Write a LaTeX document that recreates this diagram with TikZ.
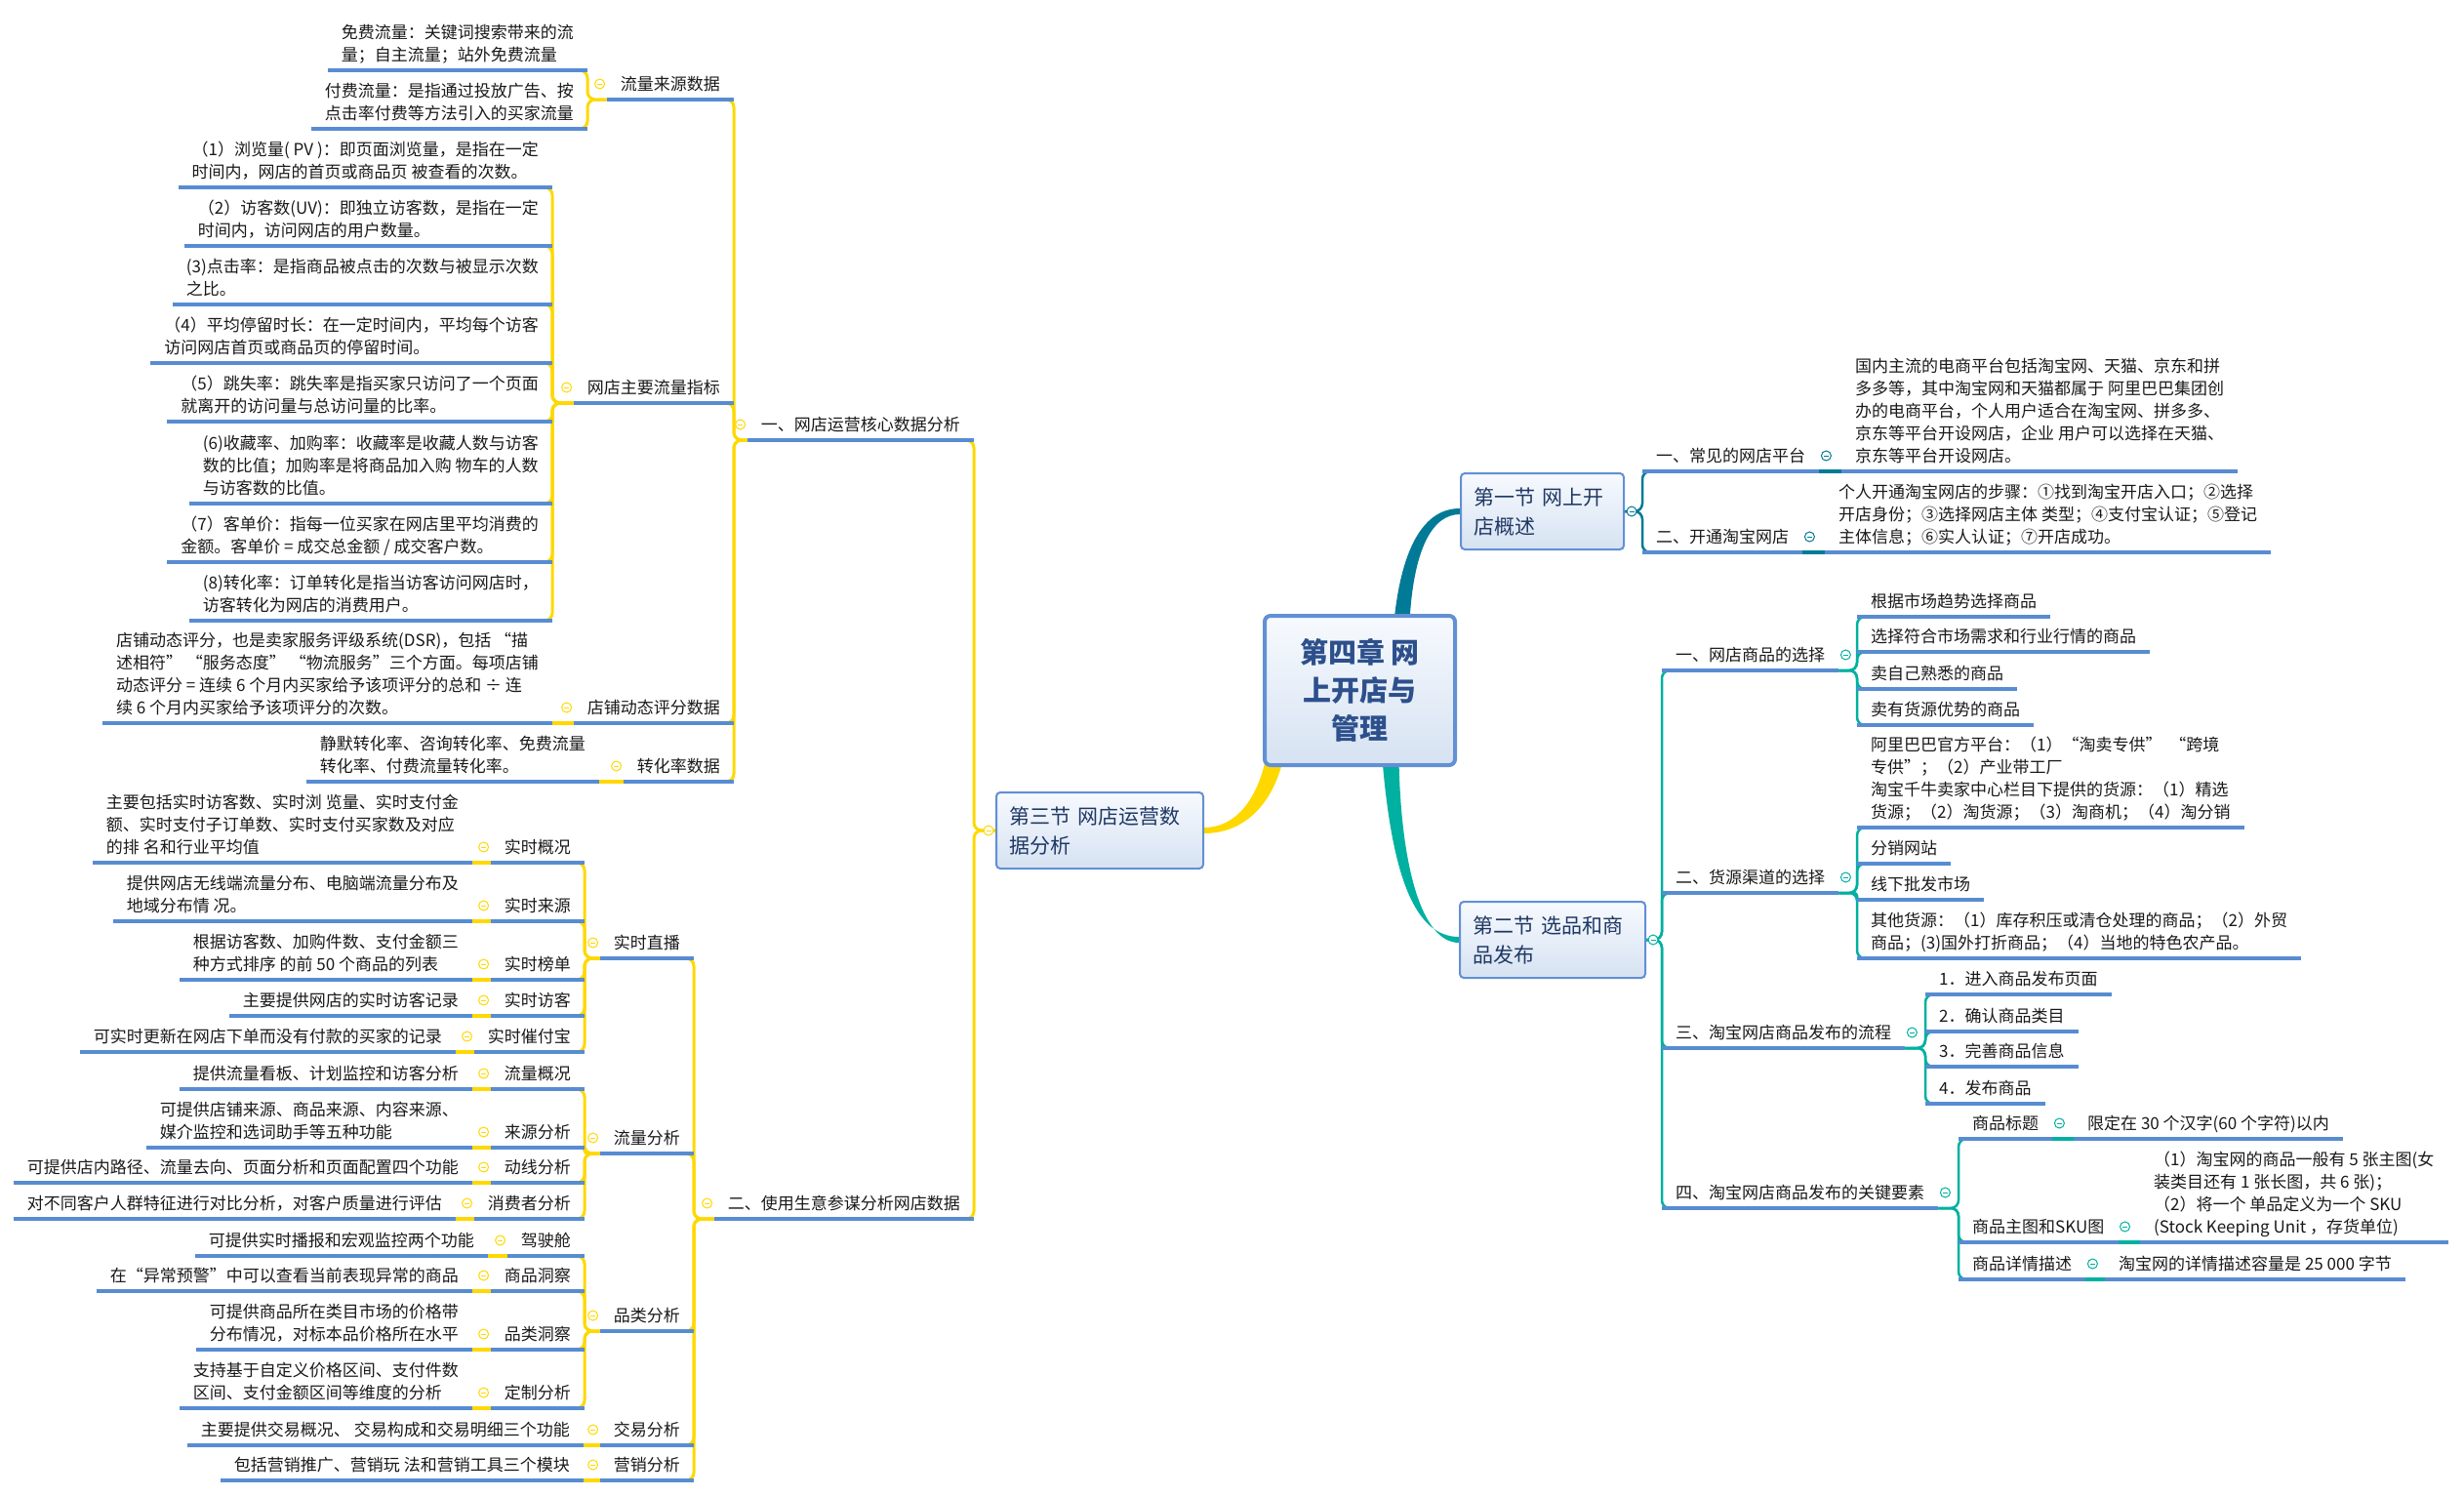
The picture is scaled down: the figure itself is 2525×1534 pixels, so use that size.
\documentclass[tikz,border=0pt]{standalone}
\usepackage{fontspec}
\newfontfamily\cjkfont{Noto Sans CJK SC}
\usepackage{tikz}
\usetikzlibrary{calc,backgrounds}
\definecolor{mapYellow}{RGB}{255,216,0}
\definecolor{mapTeal}{RGB}{0,122,150}
\definecolor{mapGreen}{RGB}{0,176,160}
\definecolor{mapBlue}{RGB}{88,140,210}
\definecolor{boxBlue}{RGB}{98,144,212}
\definecolor{boxTop}{RGB}{247,250,254}
\definecolor{boxBottom}{RGB}{214,226,242}
\definecolor{headText}{RGB}{31,56,100}
\definecolor{rootText}{RGB}{45,80,140}
\definecolor{bodyText}{RGB}{25,25,25}
\newcommand{\tf}{\cjkfont\fontsize{17pt}{23pt}\selectfont}
\newcommand{\hf}{\cjkfont\fontsize{21pt}{30pt}\selectfont}
\newcommand{\rf}{\cjkfont\bfseries\fontsize{29pt}{39pt}\selectfont}

\begin{document}
\begin{tikzpicture}[x=1pt, y=-1pt,
  topic/.style={font=\tf, text=bodyText, inner xsep=14pt, inner ysep=2.5pt, align=left, execute at end node=\strut},
  tr/.style={topic, anchor=south west},
  tl/.style={topic, anchor=south east},
  secbox/.style={draw=boxBlue, line width=2pt, rounded corners=4pt, top color=boxTop, bottom color=boxBottom,
    font=\hf, text=headText, inner xsep=13pt, align=left, minimum height=78pt, anchor=north west},
  rootbox/.style={draw=boxBlue, line width=4pt, rounded corners=6pt, top color=boxTop, bottom color=boxBottom,
    font=\rf, text=rootText, align=center, minimum width=195pt, minimum height=153pt},
  ul/.style={line width=3.5pt, mapBlue},
  br/.style={line width=2.5pt, rounded corners=8pt},
  brR/.style={to path={-- (\tikztostart -| \tikztotarget) |- ($(\tikztotarget)+(10,0)$)}},
  brL/.style={to path={-- (\tikztostart -| \tikztotarget) |- ($(\tikztotarget)+(-10,0)$)}},
  link/.style={line width=3.5pt},
  foldmark/.pic={\draw[line width=1pt, fill=white] (0,0) circle (5); \draw[line width=1pt] (-2.5,0) -- (2.5,0);}
]
\useasboundingbox (0,0) rectangle (2525,1534);

% Centre and sections
\node[rootbox] (root) at (1393.5,707.5) {第四章~网\\上开店与\\管理};
\node[secbox, text width=141pt] (s1) at (1496,484) {第一节~网上开\\店概述};
\node[secbox, text width=164pt] (s2) at (1495,923) {第二节~选品和商\\品发布};
\node[secbox, text width=186pt] (s3) at (1020,811) {第三节~网店运营数\\据分析};

% Section 1
\node[tr] (r1a) at (1683,483) {一、常见的网店平台};
\node[tr] (r1a1) at (1887,483) {国内主流的电商平台包括淘宝网、天猫、京东和拼\\多多等，其中淘宝网和天猫都属于~阿里巴巴集团创\\办的电商平台，个人用户适合在淘宝网、拼多多、\\京东等平台开设网店，企业~用户可以选择在天猫、\\京东等平台开设网店。};
\node[tr] (r1b) at (1683,566) {二、开通淘宝网店};
\node[tr] (r1b1) at (1870,566) {个人开通淘宝网店的步骤：①找到淘宝开店入口；②选择\\开店身份；③选择网店主体~类型；④支付宝认证；⑤登记\\主体信息；⑥实人认证；⑦开店成功。};

% Section 2
\node[tr] (r2a) at (1703,687) {一、网店商品的选择};
\node[tr] (r2a1) at (1903,632) {根据市场趋势选择商品};
\node[tr] (r2a2) at (1903,668) {选择符合市场需求和行业行情的商品};
\node[tr] (r2a3) at (1903,706) {卖自己熟悉的商品};
\node[tr] (r2a4) at (1903,743) {卖有货源优势的商品};
\node[tr] (r2b) at (1703,915) {二、货源渠道的选择};
\node[tr] (r2b1) at (1903,848) {阿里巴巴官方平台：（1）“淘卖专供”~~“跨境\\专供”；（2）产业带工厂\\淘宝千牛卖家中心栏目下提供的货源：（1）精选\\货源；（2）淘货源；（3）淘商机；（4）淘分销};
\node[tr] (r2b2) at (1903,885) {分销网站};
\node[tr] (r2b3) at (1903,922) {线下批发市场};
\node[tr] (r2b4) at (1903,982) {其他货源：（1）库存积压或清仓处理的商品；（2）外贸\\商品；(3)国外打折商品；（4）当地的特色农产品。};
\node[tr] (r2c) at (1703,1074) {三、淘宝网店商品发布的流程};
\node[tr] (r2c1) at (1973,1019) {1．进入商品发布页面};
\node[tr] (r2c2) at (1973,1057) {2．确认商品类目};
\node[tr] (r2c3) at (1973,1093) {3．完善商品信息};
\node[tr] (r2c4) at (1973,1131) {4．发布商品};
\node[tr] (r2d) at (1703,1238) {四、淘宝网店商品发布的关键要素};
\node[tr] (r2d1) at (2007,1167) {商品标题};
\node[tr] (r2d1a) at (2125,1167) {限定在 30 个汉字(60 个字符)以内};
\node[tr] (r2d2) at (2007,1273) {商品主图和SKU图};
\node[tr] (r2d2a) at (2193,1273) {（1）淘宝网的商品一般有 5 张主图(女\\装类目还有 1 张长图，共 6 张)；\\（2）将一个~单品定义为一个 SKU\\(Stock Keeping Unit ，存货单位)};
\node[tr] (r2d3) at (2007,1311) {商品详情描述};
\node[tr] (r2d3a) at (2157,1311) {淘宝网的详情描述容量是 25 000 字节};

% Section 3, part one
\node[tl] (l1) at (998,451) {一、网店运营核心数据分析};
\node[tl] (l1a) at (752,102) {流量来源数据};
\node[tl] (l1a1) at (602,72) {免费流量：关键词搜索带来的流\\量；自主流量；站外免费流量};
\node[tl] (l1a2) at (602,132) {付费流量：是指通过投放广告、按\\点击率付费等方法引入的买家流量};
\node[tl] (l1b) at (752,413) {网店主要流量指标};
\node[tl] (l1b1) at (566,192) {（1）浏览量(~PV~)：即页面浏览量，是指在一定\\时间内，网店的首页或商品页~被查看的次数。};
\node[tl] (l1b2) at (566,252) {（2）访客数(UV)：即独立访客数，是指在一定\\时间内，访问网店的用户数量。};
\node[tl] (l1b3) at (566,312) {(3)点击率：是指商品被点击的次数与被显示次数\\之比。};
\node[tl] (l1b4) at (566,372) {（4）平均停留时长：在一定时间内，平均每个访客\\访问网店首页或商品页的停留时间。};
\node[tl] (l1b5) at (566,432) {（5）跳失率：跳失率是指买家只访问了一个页面\\就离开的访问量与总访问量的比率。};
\node[tl] (l1b6) at (566,516) {(6)收藏率、加购率：收藏率是收藏人数与访客\\数的比值；加购率是将商品加入购~物车的人数\\与访客数的比值。};
\node[tl] (l1b7) at (566,576) {（7）客单价：指每一位买家在网店里平均消费的\\金额。客单价 = 成交总金额 / 成交客户数。};
\node[tl] (l1b8) at (566,636) {(8)转化率：订单转化是指当访客访问网店时，\\访客转化为网店的消费用户。};
\node[tl] (l1c) at (752,741) {店铺动态评分数据};
\node[tl] (l1c1) at (566,741) {店铺动态评分，也是卖家服务评级系统(DSR)，包括~“描\\述相符”~“服务态度”~“物流服务”三个方面。每项店铺\\动态评分 = 连续 6 个月内买家给予该项评分的总和 ÷ 连\\续 6 个月内买家给予该项评分的次数。};
\node[tl] (l1d) at (752,801) {转化率数据};
\node[tl] (l1d1) at (614,801) {静默转化率、咨询转化率、免费流量\\转化率、付费流量转化率。};

% Section 3, part two
\node[tl] (l2) at (998,1249) {二、使用生意参谋分析网店数据};
\node[tl] (l2a) at (711,982) {实时直播};
\node[tl] (l2a1) at (599,884) {实时概况};
\node[tl] (l2a1a) at (484,884) {主要包括实时访客数、实时浏~览量、实时支付金\\额、实时支付子订单数、实时支付买家数及对应\\的排~名和行业平均值};
\node[tl] (l2a2) at (599,944) {实时来源};
\node[tl] (l2a2a) at (484,944) {提供网店无线端流量分布、电脑端流量分布及\\地域分布情~况。};
\node[tl] (l2a3) at (599,1004) {实时榜单};
\node[tl] (l2a3a) at (484,1004) {根据访客数、加购件数、支付金额三\\种方式排序~的前 50 个商品的列表};
\node[tl] (l2a4) at (599,1041) {实时访客};
\node[tl] (l2a4a) at (484,1041) {主要提供网店的实时访客记录};
\node[tl] (l2a5) at (599,1078) {实时催付宝};
\node[tl] (l2a5a) at (467,1078) {可实时更新在网店下单而没有付款的买家的记录};
\node[tl] (l2b) at (711,1182) {流量分析};
\node[tl] (l2b1) at (599,1116) {流量概况};
\node[tl] (l2b1a) at (484,1116) {提供流量看板、计划监控和访客分析};
\node[tl] (l2b2) at (599,1176) {来源分析};
\node[tl] (l2b2a) at (484,1176) {可提供店铺来源、商品来源、内容来源、\\媒介监控和选词助手等五种功能};
\node[tl] (l2b3) at (599,1212) {动线分析};
\node[tl] (l2b3a) at (484,1212) {可提供店内路径、流量去向、页面分析和页面配置四个功能};
\node[tl] (l2b4) at (599,1249) {消费者分析};
\node[tl] (l2b4a) at (467,1249) {对不同客户人群特征进行对比分析，对客户质量进行评估};
\node[tl] (l2c) at (711,1364) {品类分析};
\node[tl] (l2c1) at (599,1287) {驾驶舱};
\node[tl] (l2c1a) at (500,1287) {可提供实时播报和宏观监控两个功能};
\node[tl] (l2c2) at (599,1323) {商品洞察};
\node[tl] (l2c2a) at (484,1323) {在“异常预警”中可以查看当前表现异常的商品};
\node[tl] (l2c3) at (599,1383) {品类洞察};
\node[tl] (l2c3a) at (484,1383) {可提供商品所在类目市场的价格带\\分布情况，对标本品价格所在水平};
\node[tl] (l2c4) at (599,1443) {定制分析};
\node[tl] (l2c4a) at (484,1443) {支持基于自定义价格区间、支付件数\\区间、支付金额区间等维度的分析};
\node[tl] (l2d) at (711,1481) {交易分析};
\node[tl] (l2d1) at (598,1481) {主要提供交易概况、~交易构成和交易明细三个功能};
\node[tl] (l2e) at (711,1517) {营销分析};
\node[tl] (l2e1) at (598,1517) {包括营销推广、营销玩~法和营销工具三个模块};

% Underlines
\foreach \n in {r1a,r1a1,r1b,r1b1,r2a,r2a1,r2a2,r2a3,r2a4,r2b,r2b1,r2b2,r2b3,r2b4,
  r2c,r2c1,r2c2,r2c3,r2c4,r2d,r2d1,r2d1a,r2d2,r2d2a,r2d3,r2d3a,
  l1,l1a,l1a1,l1a2,l1b,l1b1,l1b2,l1b3,l1b4,l1b5,l1b6,l1b7,l1b8,l1c,l1c1,l1d,l1d1,
  l2,l2a,l2a1,l2a1a,l2a2,l2a2a,l2a3,l2a3a,l2a4,l2a4a,l2a5,l2a5a,
  l2b,l2b1,l2b1a,l2b2,l2b2a,l2b3,l2b3a,l2b4,l2b4a,
  l2c,l2c1,l2c1a,l2c2,l2c2a,l2c3,l2c3a,l2c4,l2c4a,l2d,l2d1,l2e,l2e1}
  \draw[ul] (\n.south west) -- (\n.south east);

% Fold marks
\pic[mapTeal] at ([xshift=7pt]s1.east) {foldmark};
\pic[mapGreen] at ([xshift=7pt]s2.east) {foldmark};
\pic[mapYellow] at ([xshift=-7pt]s3.west) {foldmark};
\foreach \n in {r1a,r1b} \pic[mapTeal] at ($(\n.south east)+(7,-16)$) {foldmark};
\foreach \n in {r2a,r2b,r2c,r2d,r2d1,r2d2,r2d3} \pic[mapGreen] at ($(\n.south east)+(7,-16)$) {foldmark};
\foreach \n in {l1,l1a,l1b,l1c,l1d,l2,l2a,l2b,l2c,l2d,l2e,
  l2a1,l2a2,l2a3,l2a4,l2a5,l2b1,l2b2,l2b3,l2b4,l2c1,l2c2,l2c3,l2c4}
  \pic[mapYellow] at ($(\n.south west)+(-7,-16)$) {foldmark};

% Branches
\begin{scope}[on background layer]
  \fill[mapYellow] ([xshift=3pt,yshift=8pt]root.south west) .. controls +(-10,45) and +(30,0) .. ([yshift=3pt]s3.east)
    -- ([yshift=-3pt]s3.east) .. controls +(38,0) and +(-12,50) .. ([xshift=21pt,yshift=8pt]root.south west) -- cycle;
  \fill[mapTeal] ([xshift=35pt,yshift=-8pt]root.north) .. controls +(8,-80) and +(-35,0) .. ([yshift=3pt]s1.west)
    -- ([yshift=-3pt]s1.west) .. controls +(-28,0) and +(4,-75) .. ([xshift=51pt,yshift=-8pt]root.north) -- cycle;
  \fill[mapGreen] ([xshift=23pt,yshift=8pt]root.south) .. controls +(10,120) and +(-45,0) .. ([yshift=3pt]s2.west)
    -- ([yshift=-3pt]s2.west) .. controls +(-38,0) and +(2,110) .. ([xshift=40pt,yshift=8pt]root.south) -- cycle;

  % section 1
  \foreach \c in {r1a,r1b} \draw[br, mapTeal] (s1.east) to[brR] (\c.south west);
  \draw[link, mapTeal] (r1a.south east) -- (r1a1.south west);
  \draw[link, mapTeal] (r1b.south east) -- (r1b1.south west);

  % section 2
  \foreach \c in {r2a,r2b,r2c,r2d} \draw[br, mapGreen] (s2.east) to[brR] (\c.south west);
  \foreach \c in {r2a1,r2a2,r2a3,r2a4} \draw[br, mapGreen] (r2a.south east) to[brR] (\c.south west);
  \foreach \c in {r2b1,r2b2,r2b4} \draw[br, mapGreen] (r2b.south east) to[brR] (\c.south west);
  \draw[br, mapGreen, rounded corners=3pt] (r2b.south east) to[brR] (r2b3.south west);
  \foreach \c in {r2c1,r2c2,r2c3,r2c4} \draw[br, mapGreen] (r2c.south east) to[brR] (\c.south west);
  \foreach \c in {r2d1,r2d2,r2d3} \draw[br, mapGreen] (r2d.south east) to[brR] (\c.south west);
  \foreach \c in {r2d1,r2d2,r2d3} \draw[link, mapGreen] (\c.south east) -- (\c a.south west);

  % section 3
  \foreach \c in {l1,l2} \draw[br, mapYellow, line width=3pt] (s3.west) to[brL] (\c.south east);
  \foreach \c in {l1a,l1b,l1c,l1d} \draw[br, mapYellow, line width=3pt] (l1.south west) to[brL] (\c.south east);
  \foreach \c in {l1a1,l1a2} \draw[br, mapYellow, line width=3pt] (l1a.south west) to[brL] (\c.south east);
  \foreach \c in {l1b1,l1b2,l1b3,l1b4,l1b5,l1b6,l1b7,l1b8} \draw[br, mapYellow, line width=3pt] (l1b.south west) to[brL] (\c.south east);
  \draw[link, mapYellow] (l1c.south west) -- (l1c1.south east);
  \draw[link, mapYellow] (l1d.south west) -- (l1d1.south east);
  \foreach \c in {l2a,l2b,l2c,l2d,l2e} \draw[br, mapYellow, line width=3pt] (l2.south west) to[brL] (\c.south east);
  \foreach \c in {l2a1,l2a2,l2a3,l2a4,l2a5} \draw[br, mapYellow, line width=3pt] (l2a.south west) to[brL] (\c.south east);
  \foreach \c in {l2b1,l2b3,l2b4} \draw[br, mapYellow, line width=3pt] (l2b.south west) to[brL] (\c.south east);
  \draw[br, mapYellow, line width=3pt, rounded corners=3pt] (l2b.south west) to[brL] (l2b2.south east);
  \foreach \c in {l2c1,l2c2,l2c3,l2c4} \draw[br, mapYellow, line width=3pt] (l2c.south west) to[brL] (\c.south east);
  \foreach \c in {l2a1,l2a2,l2a3,l2a4,l2a5,l2b1,l2b2,l2b3,l2b4,l2c1,l2c2,l2c3,l2c4}
    \draw[link, mapYellow] (\c.south west) -- (\c a.south east);
  \draw[link, mapYellow] (l2d.south west) -- (l2d1.south east);
  \draw[link, mapYellow] (l2e.south west) -- (l2e1.south east);
\end{scope}
\end{tikzpicture}
\end{document}
